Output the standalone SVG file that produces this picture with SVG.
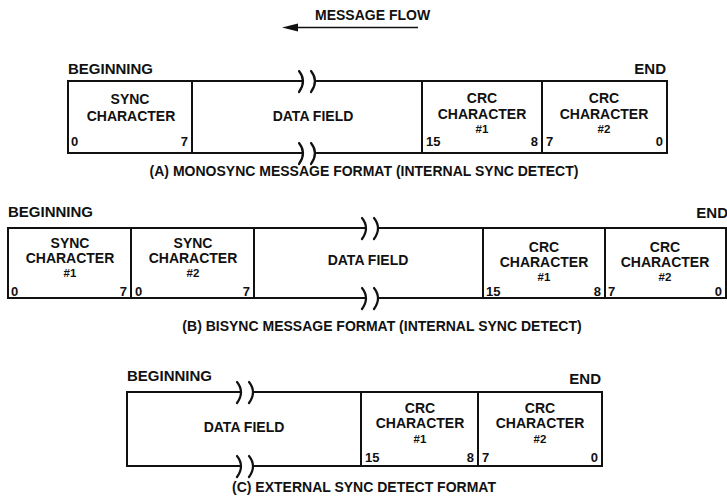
<svg xmlns="http://www.w3.org/2000/svg" width="727" height="497" viewBox="0 0 727 497">
<style>
text{font-family:"Liberation Sans",Arial,sans-serif;font-weight:bold;fill:#111}
.t{font-size:14px;text-anchor:middle}
.h{font-size:11.5px;text-anchor:middle}
.n{font-size:13px}
.e{text-anchor:end}
.lbl{font-size:15px}
.cap{font-size:14px;text-anchor:middle}
.f{fill:none;stroke:#111;stroke-width:2}
.br{fill:none;stroke:#111;stroke-width:2.2;stroke-linecap:round}
</style>
<rect width="727" height="497" fill="#fff"/>
<g id="connectors">
<line x1="294" y1="27.5" x2="418" y2="27.5" stroke="#111" stroke-width="1.6"/>
<polygon points="282,27.5 298,23.5 298,31.5" fill="#111"/>
</g>
<text x="315" y="20" class="t" style="text-anchor:start">MESSAGE FLOW</text>

<g id="formatA">
<path class="f" d="M303,81 H68 V153 H303 M315,81 H667 V153 H315"/>
<path class="br" d="M299,71 Q307,81 299,92 M311,71 Q319,81 311,92 M299,143 Q307,153 299,164 M311,143 Q319,153 311,164"/>
<text x="68" y="74" class="lbl">BEGINNING</text>
<text x="666" y="74" class="lbl e">END</text>
<g id="a-sync">
<line class="f" x1="192" y1="81" x2="192" y2="153"/>
<text x="130" y="104" class="t">SYNC</text>
<text x="131" y="121" class="t">CHARACTER</text>
<text x="71" y="146" class="n">0</text>
<text x="188" y="146" class="n e">7</text>
</g>
<g id="a-data">
<text x="313" y="121" class="t">DATA FIELD</text>
</g>
<g id="a-crc1">
<line class="f" x1="422" y1="81" x2="422" y2="153"/>
<text x="482" y="103" class="t">CRC</text>
<text x="482" y="119" class="t">CHARACTER</text>
<text x="482" y="133" class="h">#1</text>
<text x="426" y="146" class="n">15</text>
<text x="538" y="146" class="n e">8</text>
</g>
<g id="a-crc2">
<line class="f" x1="542" y1="81" x2="542" y2="153"/>
<text x="604" y="103" class="t">CRC</text>
<text x="604" y="119" class="t">CHARACTER</text>
<text x="604" y="133" class="h">#2</text>
<text x="546" y="146" class="n">7</text>
<text x="663" y="146" class="n e">0</text>
</g>
<text x="364" y="176" class="cap">(A) MONOSYNC MESSAGE FORMAT (INTERNAL SYNC DETECT)</text>
</g>

<g id="formatB">
<path class="f" d="M366,228 H8 V298 H366 M378,228 H726 V298 H378"/>
<path class="br" d="M362,218 Q370,228 362,239 M374,218 Q382,228 374,239 M362,288 Q370,298 362,309 M374,288 Q382,298 374,309"/>
<text x="8" y="217" class="lbl">BEGINNING</text>
<text x="728" y="218" class="lbl e">END</text>
<g id="b-sync1">
<text x="70" y="248" class="t">SYNC</text>
<text x="70" y="263" class="t">CHARACTER</text>
<text x="70" y="277" class="h">#1</text>
<text x="11" y="296" class="n">0</text>
<text x="127" y="296" class="n e">7</text>
</g>
<g id="b-sync2">
<line class="f" x1="131" y1="228" x2="131" y2="298"/>
<text x="193" y="248" class="t">SYNC</text>
<text x="193" y="263" class="t">CHARACTER</text>
<text x="193" y="277" class="h">#2</text>
<text x="135" y="296" class="n">0</text>
<text x="250" y="296" class="n e">7</text>
</g>
<g id="b-data">
<line class="f" x1="254" y1="228" x2="254" y2="298"/>
<text x="368" y="265" class="t">DATA FIELD</text>
</g>
<g id="b-crc1">
<line class="f" x1="483" y1="228" x2="483" y2="298"/>
<text x="544" y="252" class="t">CRC</text>
<text x="544" y="267" class="t">CHARACTER</text>
<text x="544" y="281" class="h">#1</text>
<text x="486" y="296" class="n">15</text>
<text x="601" y="296" class="n e">8</text>
</g>
<g id="b-crc2">
<line class="f" x1="605" y1="228" x2="605" y2="298"/>
<text x="665" y="252" class="t">CRC</text>
<text x="665" y="267" class="t">CHARACTER</text>
<text x="665" y="281" class="h">#2</text>
<text x="608" y="296" class="n">7</text>
<text x="722" y="296" class="n e">0</text>
</g>
<text x="382" y="331" class="cap">(B) BISYNC MESSAGE FORMAT (INTERNAL SYNC DETECT)</text>
</g>

<g id="formatC">
<path class="f" d="M241,392 H127 V466 H241 M253,392 H602 V466 H253"/>
<path class="br" d="M237,382 Q245,392 237,403 M249,382 Q257,392 249,403 M237,456 Q245,466 237,477 M249,456 Q257,466 249,477"/>
<text x="127" y="381" class="lbl">BEGINNING</text>
<text x="601" y="384" class="lbl e">END</text>
<g id="c-data">
<text x="244" y="432" class="t">DATA FIELD</text>
</g>
<g id="c-crc1">
<line class="f" x1="361" y1="392" x2="361" y2="466"/>
<text x="420" y="413" class="t">CRC</text>
<text x="420" y="428" class="t">CHARACTER</text>
<text x="420" y="443" class="h">#1</text>
<text x="365" y="462" class="n">15</text>
<text x="474" y="462" class="n e">8</text>
</g>
<g id="c-crc2">
<line class="f" x1="478" y1="392" x2="478" y2="466"/>
<text x="540" y="413" class="t">CRC</text>
<text x="540" y="428" class="t">CHARACTER</text>
<text x="540" y="443" class="h">#2</text>
<text x="482" y="462" class="n">7</text>
<text x="598" y="462" class="n e">0</text>
</g>
<text x="364" y="492" class="cap">(C) EXTERNAL SYNC DETECT FORMAT</text>
</g>
</svg>
